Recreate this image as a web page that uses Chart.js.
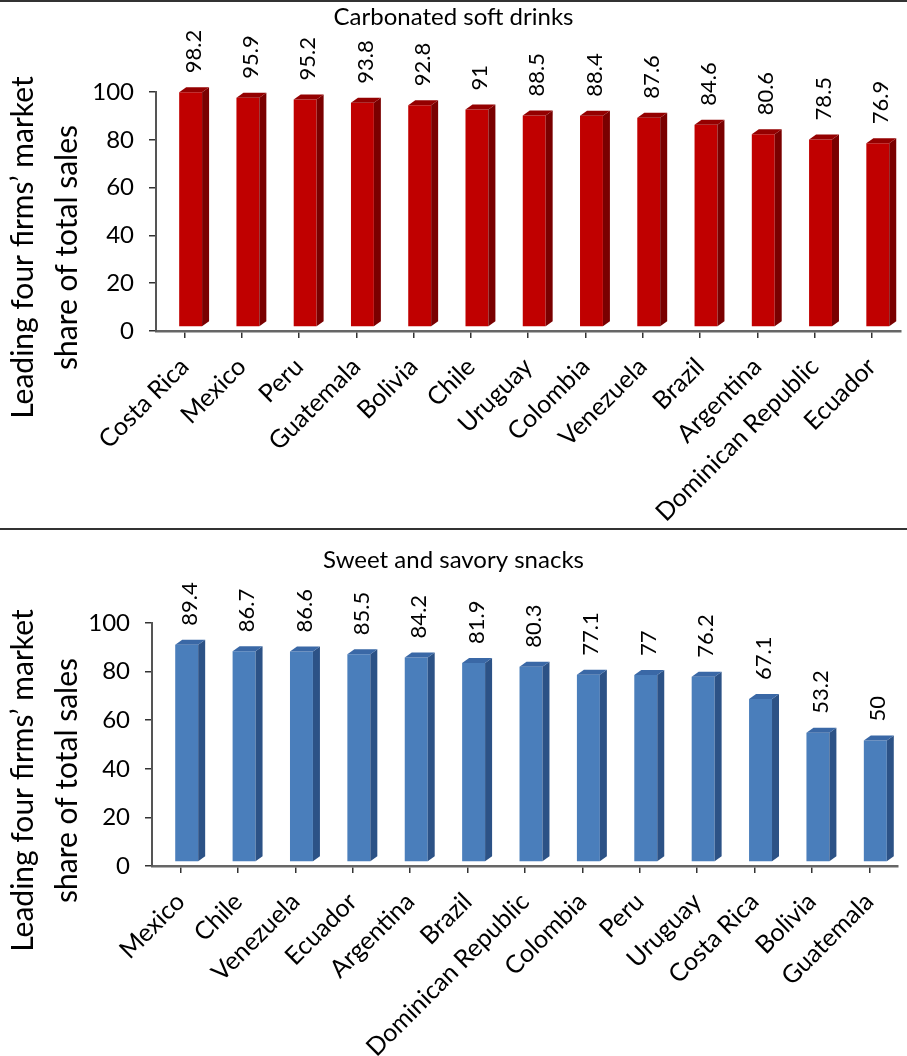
<!DOCTYPE html>
<html>
<head>
<meta charset="utf-8">
<script src="https://cdn.jsdelivr.net/npm/chart.js@4.4.1/dist/chart.umd.min.js"></script>
<style>
  body { margin: 0; background: #fff; }
  .panel { width: 907px; height: 528px; }
</style>
</head>
<body>
<div class="panel"><canvas id="drinksChart" width="907" height="528"></canvas></div>
<div class="panel"><canvas id="snacksChart" width="907" height="528"></canvas></div>
<script>
// Carbonated soft drinks
const drinkCountries = ['Costa Rica', 'Mexico', 'Peru', 'Guatemala', 'Bolivia', 'Chile', 'Uruguay',
    'Colombia', 'Venezuela', 'Brazil', 'Argentina', 'Dominican Republic', 'Ecuador'];
const drinkShares = [98.2, 95.9, 95.2, 93.8, 92.8, 91, 88.5, 88.4, 87.6, 84.6, 80.6, 78.5, 76.9];

// Sweet and savory snacks
const snackCountries = ['Mexico', 'Chile', 'Venezuela', 'Ecuador', 'Argentina', 'Brazil', 'Dominican Republic',
    'Colombia', 'Peru', 'Uruguay', 'Costa Rica', 'Bolivia', 'Guatemala'];
const snackShares = [89.4, 86.7, 86.6, 85.5, 84.2, 81.9, 80.3, 77.1, 77, 76.2, 67.1, 53.2, 50];

// y axis: labelled every 20, minor tick every 10
const shareTickLabels = [0, 20, 40, 60, 80, 100];
const yTitleLines = ['Leading four firms\u2019 market', 'share of total sales'];

Chart.defaults.font.family = 'Lato, "Open Sans", sans-serif';
Chart.defaults.color = '#000';

// fake 3D: shift the columns a bit, then add a side and a top face and the value label
const bar3d = {
    id: 'bar3d',
    beforeDatasetsDraw(chart, args, opts) {
        chart.ctx.save();
        chart.ctx.translate(opts.shiftX, opts.shiftY);
    },
    afterDatasetsDraw(chart, args, opts) {
        const ctx = chart.ctx;
        const dx = opts.depthX, dy = opts.depthY;
        const values = chart.data.datasets[0].data;
        chart.getDatasetMeta(0).data.forEach((bar, i) => {
            const { x, y, base, width } = bar.getProps(['x', 'y', 'base', 'width'], true);
            const l = x - width / 2, r = x + width / 2;
            ctx.fillStyle = opts.sideColor;
            ctx.beginPath();
            ctx.moveTo(r, y);
            ctx.lineTo(r + dx, y - dy);
            ctx.lineTo(r + dx, base - dy);
            ctx.lineTo(r, base);
            ctx.closePath();
            ctx.fill();
            ctx.fillStyle = opts.topColor;
            ctx.beginPath();
            ctx.moveTo(l, y);
            ctx.lineTo(l + dx, y - dy);
            ctx.lineTo(r + dx, y - dy);
            ctx.lineTo(r, y);
            ctx.closePath();
            ctx.fill();

            ctx.save();
            ctx.translate(x + 3, y - dy - 14);
            ctx.rotate(-Math.PI / 2);
            ctx.font = '22px ' + Chart.defaults.font.family;
            ctx.fillStyle = '#000';
            ctx.textAlign = 'left';
            ctx.textBaseline = 'middle';
            ctx.fillText(String(values[i]), 0, 0);
            ctx.restore();
        });
        ctx.restore();
    },
    afterDraw(chart, args, opts) {
        const ctx = chart.ctx;
        const area = chart.chartArea;
        ctx.save();
        // frame line at top of panel
        ctx.strokeStyle = '#333';
        ctx.lineWidth = 2;
        ctx.beginPath();
        ctx.moveTo(0, 1);
        ctx.lineTo(chart.width, 1);
        ctx.stroke();
        // chart title
        ctx.fillStyle = '#000';
        ctx.font = '24px ' + Chart.defaults.font.family;
        ctx.textAlign = 'center';
        ctx.textBaseline = 'middle';
        ctx.fillText(opts.title, chart.width / 2, opts.titleY);
        // y axis title, two lines
        const cy = (area.top + area.bottom) / 2 + 36;
        ctx.font = '30px ' + Chart.defaults.font.family;
        yTitleLines.forEach((line, k) => {
            ctx.save();
            ctx.translate(23 + k * 44, cy);
            ctx.rotate(-Math.PI / 2);
            ctx.fillText(line, 0, 0);
            ctx.restore();
        });
        ctx.restore();
    }
};

function shareChart(id, labels, values, look) {
    const ctx = document.getElementById(id).getContext('2d');
    return new Chart(ctx, {
        type: 'bar',
        data: {
            labels: labels,
            datasets: [{
                data: values,
                backgroundColor: look.frontColor,
                barPercentage: 0.4,
                categoryPercentage: 1,
                clip: false
            }]
        },
        options: {
            responsive: false,
            animation: false,
            layout: { padding: { top: look.areaTop, right: look.areaRight, left: 0, bottom: 0 } },
            plugins: {
                legend: { display: false },
                tooltip: { enabled: false },
                bar3d: look
            },
            scales: {
                x: {
                    afterFit: s => { s.height = 528 - look.areaBottom; },
                    grid: { offset: false, drawOnChartArea: false, tickLength: 7, color: '#333', lineWidth: 1.5 },
                    border: { color: '#666', width: 2.5 },
                    ticks: { minRotation: 45, maxRotation: 45, autoSkip: false, padding: 14,
                        font: { size: 25 }, color: '#000' }
                },
                y: {
                    min: 0,
                    max: 100,
                    afterFit: s => { s.width = look.areaLeft; },
                    grid: { drawOnChartArea: false, tickLength: 7, color: '#333', lineWidth: 1.5 },
                    border: { color: '#555', width: 2 },
                    ticks: {
                        stepSize: 10,
                        padding: 15,
                        font: { size: 24 },
                        color: '#000',
                        callback: v => shareTickLabels.includes(v) ? String(v) : ''
                    }
                }
            }
        },
        plugins: [bar3d]
    });
}

shareChart('drinksChart', drinkCountries, drinkShares, {
    title: 'Carbonated soft drinks', titleY: 17,
    areaTop: 92, areaBottom: 331, areaLeft: 156, areaRight: 0,
    frontColor: '#c00000', sideColor: '#7a0000', topColor: '#940000',
    shiftX: 6, shiftY: -4, depthX: 7, depthY: 5
});

shareChart('snacksChart', snackCountries, snackShares, {
    title: 'Sweet and savory snacks', titleY: 32,
    areaTop: 95, areaBottom: 338, areaLeft: 152, areaRight: 9,
    frontColor: '#4a7ebb', sideColor: '#2c5286', topColor: '#3a68a6',
    shiftX: 6, shiftY: -4, depthX: 7, depthY: 5
});
</script>
</body>
</html>
